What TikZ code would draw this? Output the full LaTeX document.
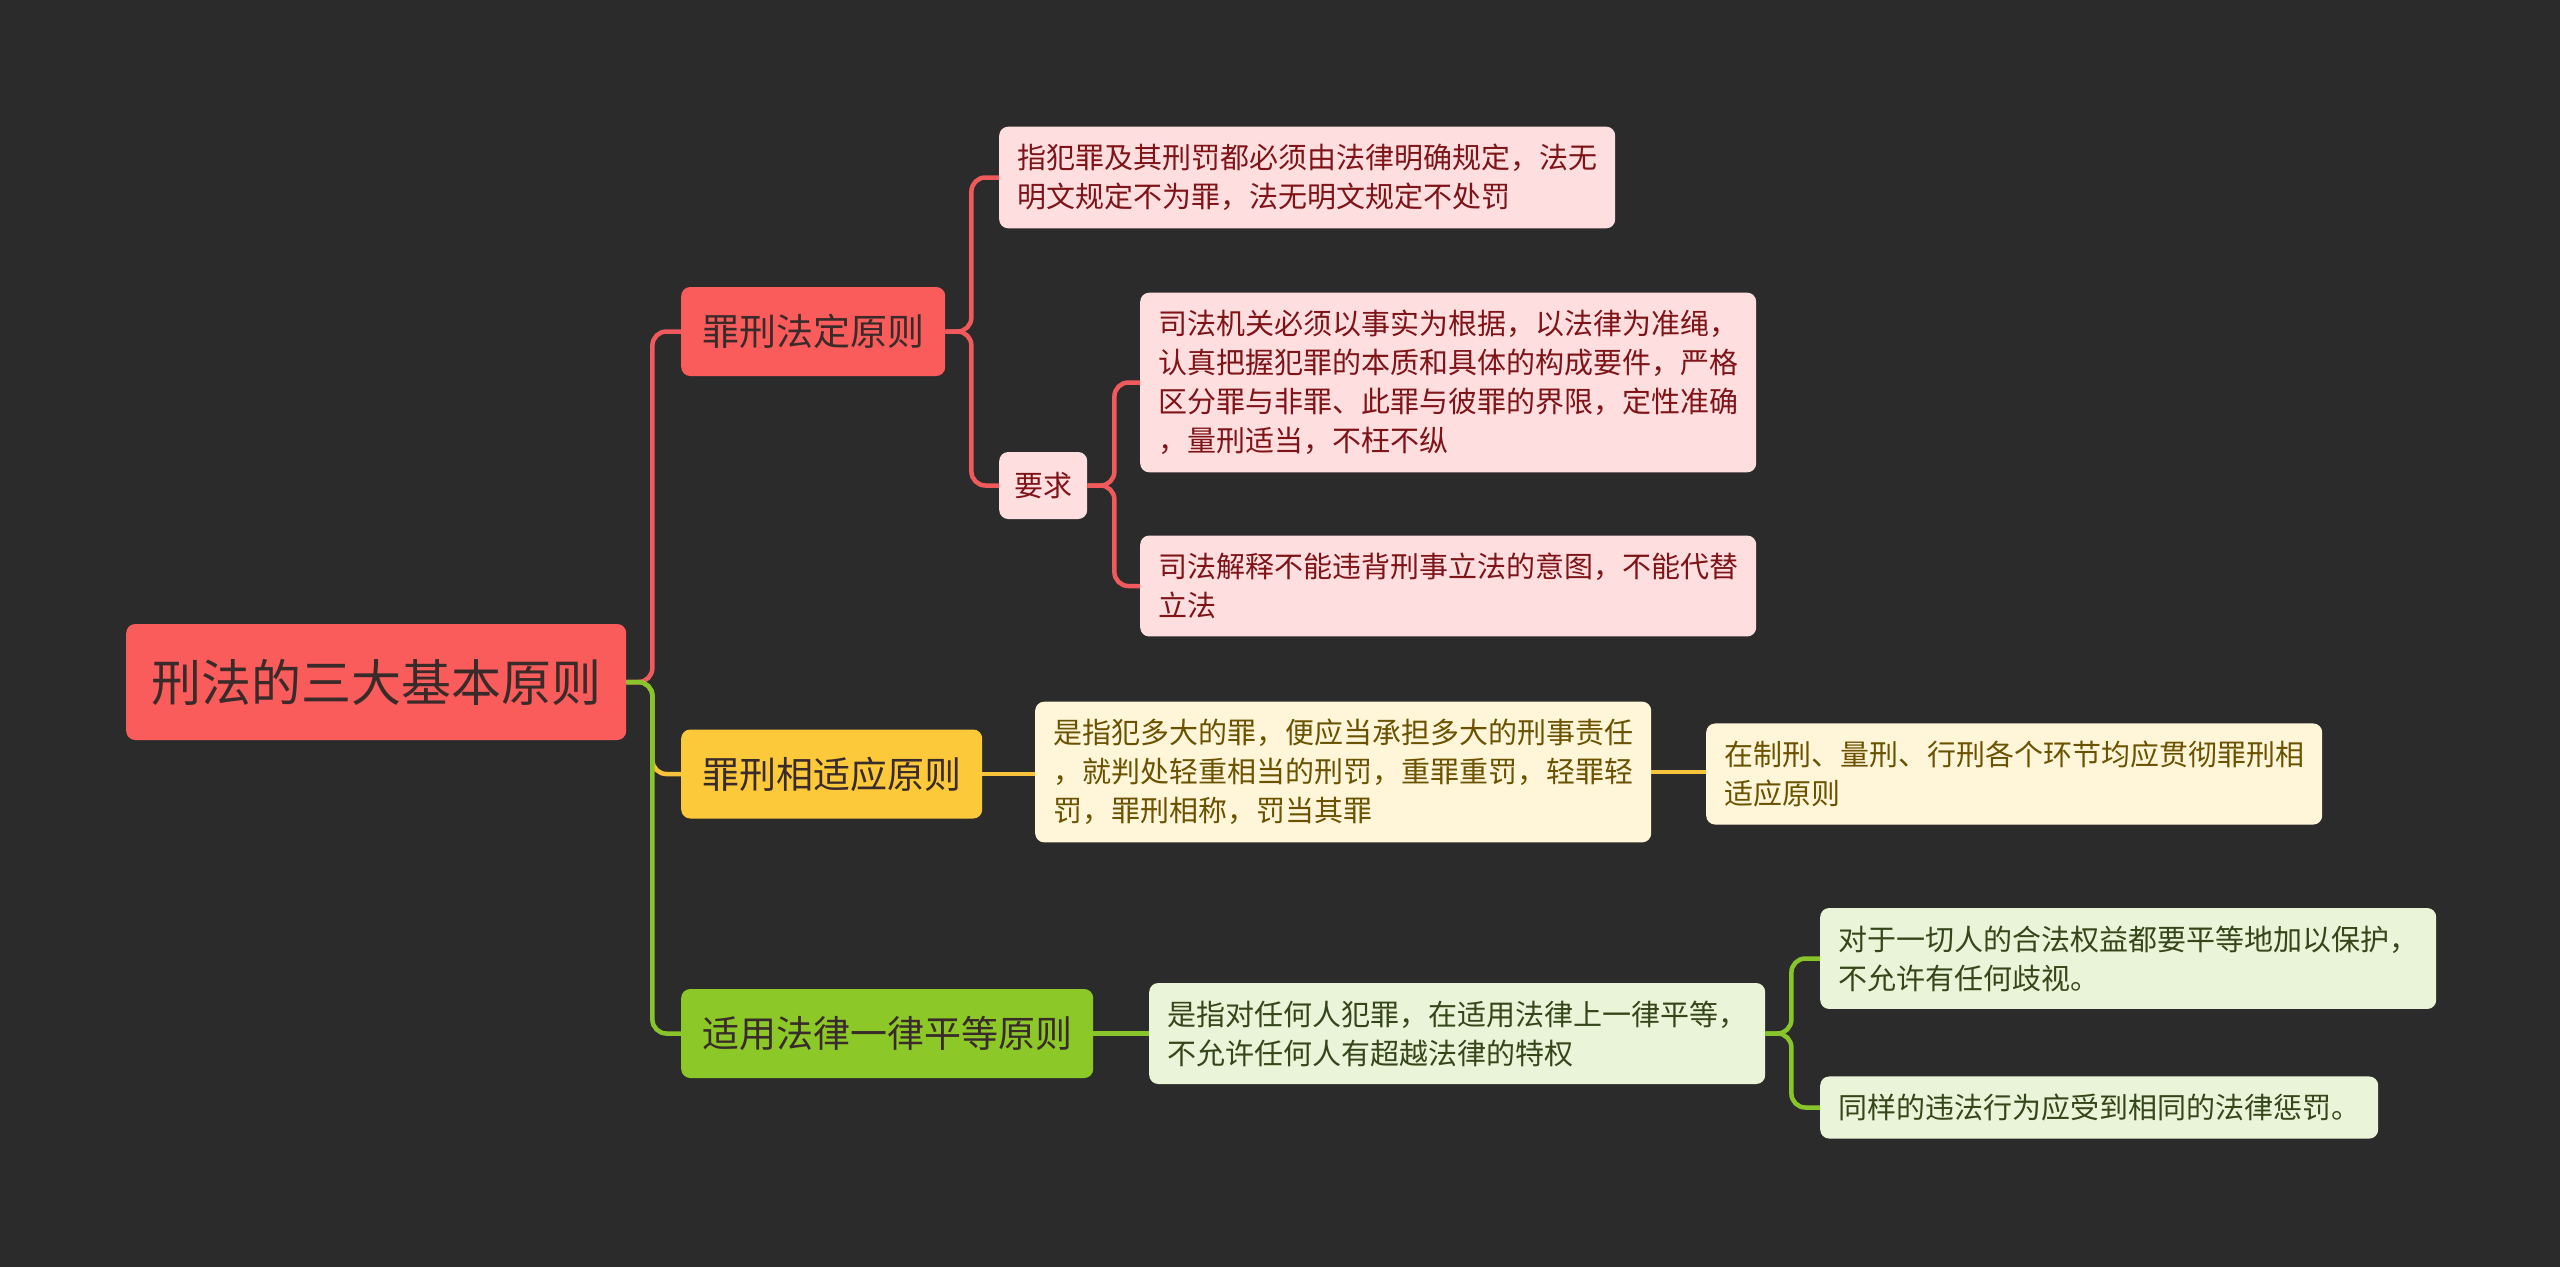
\documentclass[tikz,border=0pt]{standalone}
\usepackage{fontspec}
\newfontfamily\cjk{Noto Sans CJK SC}
\usepackage{tikz}
\usetikzlibrary{positioning,calc}
\definecolor{bgc}{HTML}{2B2B2B}
\definecolor{redc}{HTML}{FA5B5B}
\definecolor{redln}{HTML}{F05A5C}
\definecolor{pinkc}{HTML}{FFDEE0}
\definecolor{pinktx}{HTML}{7E1418}
\definecolor{yelc}{HTML}{FCC93B}
\definecolor{yelln}{HTML}{F6C33A}
\definecolor{creamc}{HTML}{FFF6DA}
\definecolor{creamtx}{HTML}{6B5200}
\definecolor{grnc}{HTML}{8CC828}
\definecolor{grnln}{HTML}{88C52A}
\definecolor{mintc}{HTML}{EAF4D8}
\definecolor{minttx}{HTML}{34461A}
\definecolor{darktx}{HTML}{3A2B2B}

\begin{document}
\begin{tikzpicture}[
  x=1pt, y=-1pt,
  box/.style={rounded corners=9pt, align=left, anchor=west},
  rootbox/.style={box, fill=redc, text=darktx, minimum height=116pt, inner xsep=25pt,
                  font=\cjk\fontsize{50}{60}\selectfont},
  br/.style={box, minimum height=89pt, inner xsep=21pt, font=\cjk\fontsize{37}{44}\selectfont},
  lf/.style={box, inner xsep=18pt, inner ysep=17.5pt, font=\cjk\fontsize{29}{39}\selectfont},
  pinkleaf/.style={lf, fill=pinkc, text=pinktx},
  creamleaf/.style={lf, fill=creamc, text=creamtx},
  mintleaf/.style={lf, fill=mintc, text=minttx},
  ln/.style={line width=4.5pt, rounded corners=14pt},
  lnred/.style={ln, draw=redln},
  lnyel/.style={ln, draw=yelln},
  lngrn/.style={ln, draw=grnln}
]
\fill[bgc] (0,0) rectangle (2560,1267);
\useasboundingbox (0,0) rectangle (2560,1267);

\node[rootbox] (root) at (126,682) {刑法的三大基本原则};
\node[br, fill=redc, text=darktx] (legal) at (681,331.5) {罪刑法定原则};
\node[br, fill=yelc, text=darktx] (fit) at (681,774) {罪刑相适应原则};
\node[br, fill=grnc, text=darktx] (equal) at (681,1033.5) {适用法律一律平等原则};

\node[pinkleaf] (legaldef) at (999,177.5) {指犯罪及其刑罚都必须由法律明确规定，法无\\明文规定不为罪，法无明文规定不处罚};
\node[pinkleaf, inner xsep=15pt, minimum height=67pt, inner ysep=0pt] (req) at (999,485.5) {要求};
\node[pinkleaf] (reqfact) at (1140,382.5) {司法机关必须以事实为根据，以法律为准绳，\\认真把握犯罪的本质和具体的构成要件，严格\\区分罪与非罪、此罪与彼罪的界限，定性准确\\，量刑适当，不枉不纵};
\node[pinkleaf] (reqinterp) at (1140,586) {司法解释不能违背刑事立法的意图，不能代替\\立法};

\node[creamleaf] (fitdef) at (1035,772) {是指犯多大的罪，便应当承担多大的刑事责任\\，就判处轻重相当的刑罚，重罪重罚，轻罪轻\\罚，罪刑相称，罚当其罪};
\node[creamleaf] (fitstage) at (1706,774) {在制刑、量刑、行刑各个环节均应贯彻罪刑相\\适应原则};

\node[mintleaf] (equaldef) at (1149,1033.5) {是指对任何人犯罪，在适用法律上一律平等，\\不允许任何人有超越法律的特权};
\node[mintleaf] (equalprot) at (1820,958.5) {对于一切人的合法权益都要平等地加以保护，\\不允许有任何歧视。};
\node[mintleaf] (equalpun) at (1820,1107.5) {同样的违法行为应受到相同的法律惩罚。};

\draw[lnred] (root.east) -- ++(26,0) |- (legal.west);
\draw[lnyel] (root.east) -- ++(26,0) |- (fit.west);
\draw[lngrn] (root.east) -- ++(26,0) |- (equal.west);

\draw[lnred] (legal.east) -- ++(26,0) |- (legaldef.west);
\draw[lnred] (legal.east) -- ++(26,0) |- (req.west);
\draw[lnred] (req.east) -- ++(27,0) |- (reqfact.west);
\draw[lnred] (req.east) -- ++(27,0) |- (reqinterp.west);

\draw[lnyel] (fit.east) -- (fit.east -| fitdef.west);
\draw[lnyel] (fitdef.east) -- (fitdef.east -| fitstage.west);

\draw[lngrn] (equal.east) -- (equaldef.west);
\draw[lngrn] (equaldef.east) -- ++(26,0) |- (equalprot.west);
\draw[lngrn] (equaldef.east) -- ++(26,0) |- (equalpun.west);
\end{tikzpicture}
\end{document}
